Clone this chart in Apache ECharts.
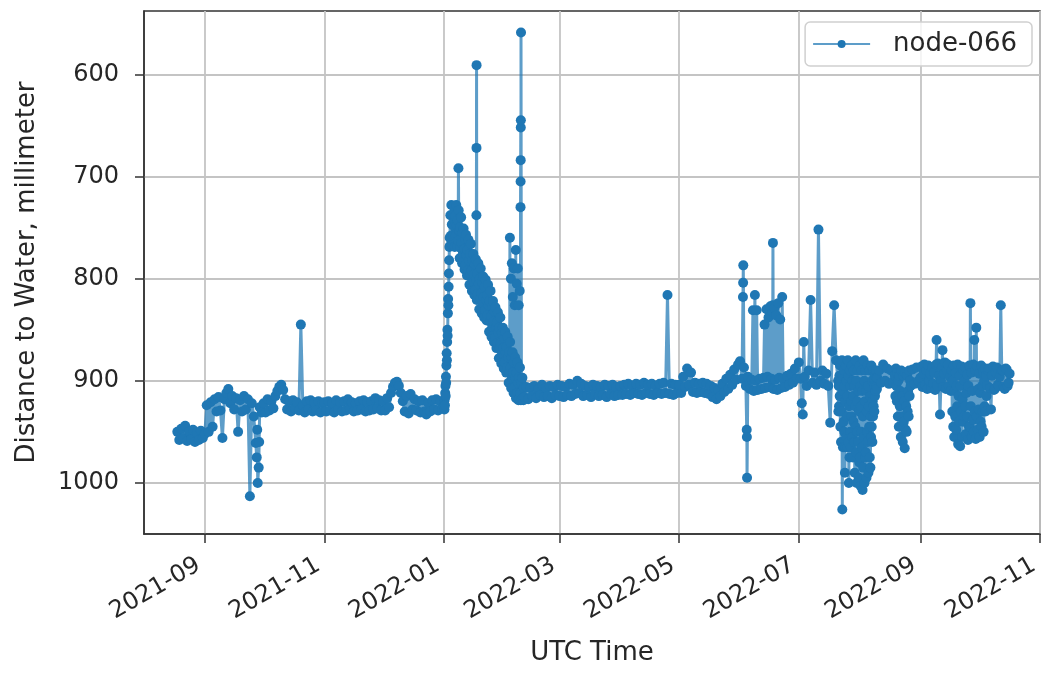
<!DOCTYPE html>
<html>
<head>
<meta charset="utf-8">
<script src="https://cdn.jsdelivr.net/npm/echarts@6/dist/echarts.min.js"></script>
<style>
html, body { margin: 0; padding: 0; background: #fff; }
#chart { width: 1043px; height: 673px; }
</style>
</head>
<body>
<div id="chart"></div>
<script>
// readings (mm); each run has a start time and a fixed step in hours
var aug21 = [950, 958, 947, 956, 944, 959, 950, 957, 948, 960, 951, 958, 949, 956];
var sep21 = [952, 924, 950, 921, 945, 918, 930, 916, 929, 956,
             918, 912, 908, 922, 915, 928, 917, 950, 919, 930,
             915, 928, 918, 1013, 922, 935, 961, 1000, 926, 931];
var oct21 = [922, 931, 918, 929, 920, 927, 915, 910, 906, 904,
             909, 918, 928, 920, 930, 919, 927, 921, 929, 845,
             924, 931, 920, 928, 919, 930, 921, 929, 920, 931, 922];
var nov21 = [921, 930, 920, 929, 922, 931, 919, 928, 921, 930,
             920, 929, 918, 927, 921, 930, 922, 929, 920, 928,
             919, 930, 921, 929, 920, 928, 917, 927, 919, 929];
var dec21 = [920, 929, 917, 926, 912, 906, 902, 901, 905, 912,
             920, 930, 915, 932, 913, 928, 918, 929, 920, 931,
             919, 930, 933, 922, 930, 919, 928, 918, 929, 920, 927];
// 3-hourly, the jump at new year
var rise22 = [925, 920, 928, 918, 924, 912, 905, 915, 896, 902, 885, 873,
              880, 862, 850, 856, 834, 820, 826, 808, 795, 782, 769, 760];
// 6-hourly, the slow fall Jan 4 - Feb 10
var ramp22 = [768, 738, 758, 728, 747, 767, 737, 757, 729, 749, 769, 739, 758, 728, 748, 768,
              743, 763, 733, 753, 780, 750, 770, 740, 765, 785, 755, 775, 751, 771, 791, 761,
              787, 757, 777, 797, 772, 792, 762, 782, 806, 776, 796, 766, 792, 812, 782, 802,
              776, 796, 816, 786, 811, 781, 801, 821, 795, 815, 785, 805, 830, 800, 820, 790,
              814, 834, 804, 824, 798, 818, 838, 808, 831, 801, 821, 841, 816, 836, 806, 826,
              852, 822, 842, 812, 837, 857, 827, 847, 822, 842, 862, 832, 858, 828, 848, 868,
              843, 863, 833, 853, 878, 848, 868, 838, 863, 883, 853, 873, 848, 868, 888, 858,
              882, 852, 872, 892, 867, 887, 857, 877, 902, 872, 892, 862, 887, 907, 877, 897,
              872, 892, 912, 882, 907, 877, 897, 917, 892, 912, 882, 902, 919, 897, 917, 887,
              912, 919, 902, 918, 897, 917, 919, 907];
var feb22 = [916, 906, 918, 907, 915, 905, 917, 908, 914, 904, 916, 907, 915, 905, 917, 906, 914, 904];
var mar22 = [915, 905, 916, 906, 914, 903, 915, 904, 913, 900,
             912, 903, 915, 905, 914, 906, 916, 904, 913, 905,
             915, 906, 914, 904, 916, 905, 913, 904, 915, 906, 914];
var apr22 = [905, 914, 904, 913, 903, 914, 905, 912, 903, 913,
             904, 914, 902, 912, 904, 913, 903, 914, 905, 912,
             903, 913, 902, 912, 816, 913, 903, 914, 904, 912];
var may22 = [904, 912, 896, 906, 888, 904, 892, 911, 902, 912,
             903, 911, 902, 912, 903, 913, 905, 916, 907, 918,
             909, 915, 903, 911, 898, 908, 894, 904, 889, 899, 884];
var jun22 = [881, 898, 887, 905, 896, 908, 899, 910, 900, 909,
             898, 908, 897, 907, 896, 906, 898, 908, 899, 909,
             897, 907, 898, 906, 895, 904, 893, 902, 888, 898];
var jul22 = [882, 898, 933, 896, 905, 890, 821, 902, 892, 904,
             752, 900, 890, 903, 893, 905, 941, 871, 826, 880];
// 4-hourly, the deep dip Jul 21 - Aug 9
var dipJulAug22 = [900, 930, 905, 925, 895, 915, 885, 945, 900, 960, 915, 930,
                   880, 1026, 895, 965, 910, 940, 890, 950, 905, 990, 920, 965,
                   885, 955, 900, 935, 915, 965, 880, 960, 895, 1000, 925, 975,
                   890, 950, 905, 965, 920, 935, 885, 955, 900, 975, 915, 940,
                   890, 960, 905, 990, 925, 945, 880, 970, 900, 1000, 920, 950,
                   890, 960, 910, 995, 930, 980, 885, 975, 905, 1003, 925, 950,
                   890, 965, 910, 1007, 935, 985, 880, 955, 900, 1000, 920, 975,
                   890, 970, 910, 995, 930, 950, 885, 960, 905, 990, 925, 945,
                   890, 975, 915, 985, 935, 955, 885, 945, 900, 960, 920, 935,
                   890, 925, 898, 930, 905, 915, 895, 910, 890, 905, 897, 908];
var aug22 = [897, 890, 902, 884, 900, 888, 903, 890, 901];
// 6-hourly, Aug 19 - Aug 26
var dipAug22 = [895, 915, 888, 905, 920, 892, 935, 900, 945, 895, 925, 910, 955, 890, 935, 915,
                960, 895, 940, 920, 966, 892, 948, 925, 950, 895, 930, 910, 935, 890, 915, 900];
var augEnd22 = [905, 889, 903, 887, 900];
// 12-hourly, Sep 1 - Sep 16
var sepBand22 = [897, 886, 906, 893, 884, 904, 890, 908, 885, 900, 893, 907, 887, 903, 892, 909,
                 884, 905, 883, 895, 933, 900, 887, 906, 893, 882, 908, 890, 884, 905, 896, 910];
// 6-hourly, Sep 17 - Oct 4
var dipSepOct22 = [890, 930, 900, 945, 885, 955, 910, 935, 892, 948, 905, 925, 884, 962, 915, 940,
                   895, 964, 905, 930, 886, 955, 918, 940, 890, 935, 900, 925, 887, 952, 912, 935,
                   894, 958, 905, 945, 885, 945, 824, 925, 892, 955, 910, 938, 884, 950, 860, 930,
                   890, 957, 848, 935, 886, 948, 908, 928, 893, 955, 912, 940, 885, 945, 905, 930,
                   891, 950, 900, 925, 888, 930, 895, 915];
// 12-hourly, Oct 5 - Oct 16
var octBand22 = [905, 890, 888, 907, 928, 895, 886, 909, 908, 892, 887, 904,
                 905, 896, 826, 890, 890, 906, 908, 888, 889, 905, 902, 893];

// single readings between the regular ones (spikes, dips)
var spikes2021 = [
  ['2021-09-27T12:00Z', 975], ['2021-09-27T18:00Z', 948], ['2021-09-28T12:00Z', 985], ['2021-09-28T18:00Z', 960]
];
var spikesJanFeb = [
  ['2022-01-08T09:00Z', 692],
  ['2022-01-17T13:00Z', 738], ['2022-01-17T14:00Z', 672], ['2022-01-17T15:00Z', 591],
  ['2022-02-03T15:00Z', 760], ['2022-02-04T03:00Z', 800], ['2022-02-04T15:00Z', 785], ['2022-02-05T03:00Z', 818],
  ['2022-02-05T15:00Z', 790], ['2022-02-06T03:00Z', 826], ['2022-02-06T15:00Z', 772], ['2022-02-07T03:00Z', 805],
  ['2022-02-07T15:00Z', 790], ['2022-02-08T03:00Z', 826], ['2022-02-08T15:00Z', 812],
  ['2022-02-09T01:00Z', 730], ['2022-02-09T02:00Z', 705], ['2022-02-09T03:00Z', 684], ['2022-02-09T04:00Z', 652],
  ['2022-02-09T05:00Z', 645], ['2022-02-09T07:00Z', 559]
];
var spikesJunJul = [
  ['2022-06-02T12:00Z', 818], ['2022-06-02T14:00Z', 804], ['2022-06-02T16:00Z', 787],
  ['2022-06-04T10:00Z', 948], ['2022-06-04T12:00Z', 955], ['2022-06-04T14:00Z', 995],
  ['2022-06-07T14:00Z', 831], ['2022-06-08T14:00Z', 816], ['2022-06-09T12:00Z', 831],
  ['2022-06-13T12:00Z', 845], ['2022-06-14T12:00Z', 830], ['2022-06-15T12:00Z', 838], ['2022-06-16T12:00Z', 827],
  ['2022-06-17T15:00Z', 833], ['2022-06-17T17:00Z', 826], ['2022-06-17T19:00Z', 765],
  ['2022-06-18T12:00Z', 829], ['2022-06-19T12:00Z', 836], ['2022-06-20T12:00Z', 824], ['2022-06-21T12:00Z', 840],
  ['2022-06-22T12:00Z', 818], ['2022-07-02T12:00Z', 922], ['2022-07-03T12:00Z', 862]
];
var spikesSep = [['2022-09-09T06:00Z', 860], ['2022-09-12T06:00Z', 870]];

var yTicks = [600, 700, 800, 900, 1000];
var xTicks = ['2021-09-01', '2021-11-01', '2022-01-01', '2022-03-01', '2022-05-01',
              '2022-07-01', '2022-09-01', '2022-11-01'];

var HOUR = 3600 * 1000;
function run(start, stepHours, values) {
  var t0 = Date.parse(start + 'Z');
  return values.map(function (v, i) { return [t0 + i * stepHours * HOUR, v]; });
}
function pairs(list) {
  return list.map(function (p) { return [Date.parse(p[0]), p[1]]; });
}

var points = [].concat(
  run('2021-08-18T00:00', 24, aug21),
  run('2021-09-01T00:00', 24, sep21),
  run('2021-10-01T00:00', 24, oct21),
  run('2021-11-01T00:00', 24, nov21),
  run('2021-12-01T00:00', 24, dec21),
  run('2022-01-01T00:00', 3, rise22),
  run('2022-01-04T00:00', 6, ramp22),
  run('2022-02-11T00:00', 24, feb22),
  run('2022-03-01T00:00', 24, mar22),
  run('2022-04-01T00:00', 24, apr22),
  run('2022-05-01T00:00', 24, may22),
  run('2022-06-01T00:00', 24, jun22),
  run('2022-07-01T00:00', 24, jul22),
  run('2022-07-21T00:00', 4, dipJulAug22),
  run('2022-08-10T00:00', 24, aug22),
  run('2022-08-19T00:00', 6, dipAug22),
  run('2022-08-27T00:00', 24, augEnd22),
  run('2022-09-01T00:00', 12, sepBand22),
  run('2022-09-17T00:00', 6, dipSepOct22),
  run('2022-10-05T00:00', 12, octBand22),
  pairs(spikes2021), pairs(spikesJanFeb), pairs(spikesJunJul), pairs(spikesSep)
).sort(function (a, b) { return a[0] - b[0]; });

var xTickTimes = xTicks.map(function (s) { return Date.parse(s + 'T00:00Z'); });

var font = 'DejaVu Sans';
var ink = '#262626';

function monthLabel(v) {
  var d = new Date(v);
  var m = d.getUTCMonth() + 1;
  return d.getUTCFullYear() + '-' + (m < 10 ? '0' + m : m);
}

var chart = echarts.init(document.getElementById('chart'));
var option = {
  animation: false,
  backgroundColor: '#ffffff',
  grid: {
    left: 144, right: 3, top: 11, bottom: 139,
    show: true, borderColor: '#333333', borderWidth: 1.5
  },
  legend: {
    data: ['node-066'],
    right: 11, top: 22,
    padding: [9, 15, 9, 7],
    itemWidth: 57, itemHeight: 10,
    backgroundColor: 'rgba(255,255,255,0.8)',
    borderColor: '#d0d0d0', borderWidth: 1.5, borderRadius: 5,
    textStyle: { fontFamily: font, fontSize: 26, color: ink, padding: [0, 0, 0, 18] }
  },
  xAxis: {
    // time values in ms, ticks on the first of every other month
    type: 'value',
    min: Date.parse('2021-08-01T00:00Z'),
    max: Date.parse('2022-11-01T00:00Z'),
    name: 'UTC Time',
    nameLocation: 'middle',
    nameGap: 106,
    nameTextStyle: { fontFamily: font, fontSize: 26, color: ink },
    axisLine: { lineStyle: { color: '#333333', width: 1.5 } },
    axisTick: { length: 9, lineStyle: { color: '#333333', width: 1.5 }, customValues: xTickTimes },
    axisLabel: {
      customValues: xTickTimes,
      formatter: monthLabel,
      rotate: 30, margin: 26,
      padding: [0, 7, 0, 0],
      fontFamily: font, fontSize: 24, color: ink
    },
    splitLine: { show: true, lineStyle: { color: '#c4c4c4', width: 1.8 } }
  },
  yAxis: {
    type: 'value',
    inverse: true,
    min: 538, max: 1050,
    name: 'Distance to Water, millimeter',
    nameLocation: 'middle',
    nameGap: 104,
    nameTextStyle: { fontFamily: font, fontSize: 26, color: ink },
    axisLine: { show: true, lineStyle: { color: '#333333', width: 1.5 } },
    axisTick: { show: true, length: 9, lineStyle: { color: '#333333', width: 1.5 }, customValues: yTicks },
    axisLabel: {
      customValues: yTicks, margin: 25,
      formatter: function (v) { return String(v); },
      fontFamily: font, fontSize: 24, color: ink
    },
    splitLine: { show: true, lineStyle: { color: '#c4c4c4', width: 1.8 } }
  },
  series: [{
    name: 'node-066',
    type: 'line',
    data: points,
    symbol: 'circle',
    symbolSize: 10,
    showSymbol: true,
    showAllSymbol: true,
    lineStyle: { color: '#1f77b4', width: 3, opacity: 0.72 },
    itemStyle: { color: '#1f77b4', opacity: 1, borderWidth: 0 },
    emphasis: { disabled: true }
  }]
};
chart.setOption(option);
</script>
</body>
</html>
